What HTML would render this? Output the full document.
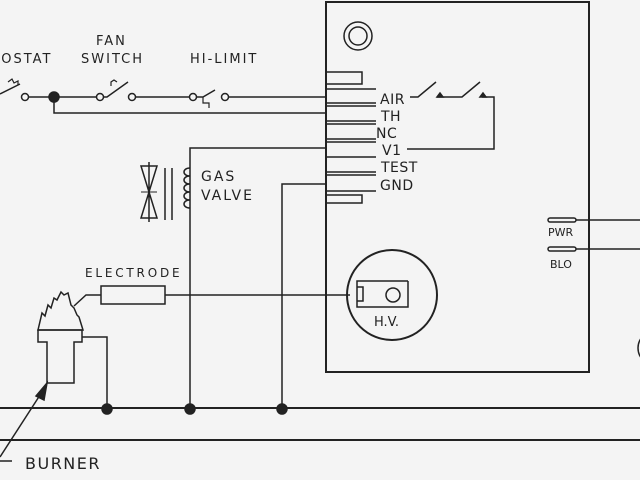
<!DOCTYPE html><html><head><meta charset="utf-8"><style>body{margin:0;background:#f4f4f4}svg{display:block}text{font-family:"DejaVu Sans","Liberation Sans",sans-serif;fill:#222}</style></head><body>
<svg width="640" height="480" viewBox="0 0 640 480" xmlns="http://www.w3.org/2000/svg" stroke="#222" fill="none" stroke-width="1.5">
<rect width="640" height="480" fill="#f4f4f4" stroke="none"/>
<rect x="326" y="2" width="263" height="370" stroke-width="2"/>
<circle cx="358" cy="36" r="14"/><circle cx="358" cy="36" r="9"/>
<path d="M326 72H362V84H326M326 195H362V203H326" />
<path d="M326 89H376M326 103H376M326 106H376M326 121H376M326 124H376M326 139H376M326 142H376M326 157H376M326 172H376M326 175H376M326 191H376"/>
<g stroke="none" font-size="14" letter-spacing="0.5">
<text x="380" y="104">AIR</text><text x="381" y="121">TH</text><text x="376" y="138">NC</text><text x="382" y="155">V1</text><text x="381" y="172">TEST</text><text x="380" y="190">GND</text>
</g>
<path d="M410 97H418L436 82M437 97H462L480 82M482 97H494V149H407"/>
<path d="M437 97l3-4 3 4zM480 97l3-4 3 4z" fill="#222"/>
<rect x="548" y="218" width="28" height="4" rx="2"/><rect x="548" y="247" width="28" height="4" rx="2"/>
<path d="M576 220H640M576 249H640"/>
<g stroke="none" font-size="11"><text x="548" y="236">PWR</text><text x="550" y="268">BLO</text></g>
<circle cx="655" cy="348" r="17"/>
<circle cx="392" cy="295" r="45" stroke-width="2"/>
<path d="M408 281H357V307H408V281M357 287H363V301H357"/>
<circle cx="393" cy="295" r="7"/>
<text x="374" y="326" font-size="13" stroke="none">H.V.</text>
<path d="M0 94L20 84M29 97H50M54 97H96M104 97H107L128 82M136 97H189M197 97H203L215 90M229 97H326M54 97V113H326"/>
<path d="M8 82l4-3 2 4 4-2 0 4" stroke-width="1.2"/>
<path d="M111 86l0-4 3-2 3 2" stroke-width="1.2"/>
<path d="M203 97V103H209V108" stroke-width="1.2"/>
<circle cx="25" cy="97" r="3.5"/><circle cx="100" cy="97" r="3.5"/><circle cx="132" cy="97" r="3.5"/><circle cx="193" cy="97" r="3.5"/><circle cx="225" cy="97" r="3.5"/>
<circle cx="54" cy="97" r="5" fill="#222"/>
<g stroke="none" font-size="13" letter-spacing="2"><text x="-12" y="63">MOSTAT</text><text x="96" y="45">FAN</text><text x="81" y="63">SWITCH</text><text x="190" y="63">HI-LIMIT</text></g>
<path d="M190 408V148H326M282 408V184H326"/>
<path d="M190 168c-8 0-8 8 0 8c-8 0-8 8 0 8c-8 0-8 8 0 8c-8 0-8 8 0 8c-8 0-8 8 0 8"/>
<path d="M165 168V220M172 168V220"/>
<path d="M149 162V222M141 166L157 218H141L157 166Z"/>
<path d="M141 192H157" stroke-width="1"/>
<g stroke="none" font-size="14" letter-spacing="2"><text x="201" y="181">GAS</text><text x="201" y="200">VALVE</text></g>
<rect x="101" y="286" width="64" height="18"/>
<path d="M165 295H350M101 295H86L74 306"/>
<text x="85" y="277" font-size="12" letter-spacing="2.8" stroke="none">ELECTRODE</text>
<path d="M38 330L42 313L45 316L48 305L51 308L54 298L57 300L61 292L64 295L68 293L71 305L74 308L77 315L79 317L83 330Z"/>
<path d="M38 330H82V342H74V383H47V342H38Z"/>
<path d="M82 337H107V408"/>
<path d="M0 457L42 392"/><path d="M47 383L36 396L44 400Z" fill="#222"/>
<path d="M0 461H12"/>
<text x="25" y="469" font-size="16" letter-spacing="1.5" stroke="none">BURNER</text>
<path d="M0 408H640M0 440H640" stroke-width="2"/>
<circle cx="107" cy="409" r="5" fill="#222"/><circle cx="190" cy="409" r="5" fill="#222"/><circle cx="282" cy="409" r="5" fill="#222"/>
</svg></body></html>
